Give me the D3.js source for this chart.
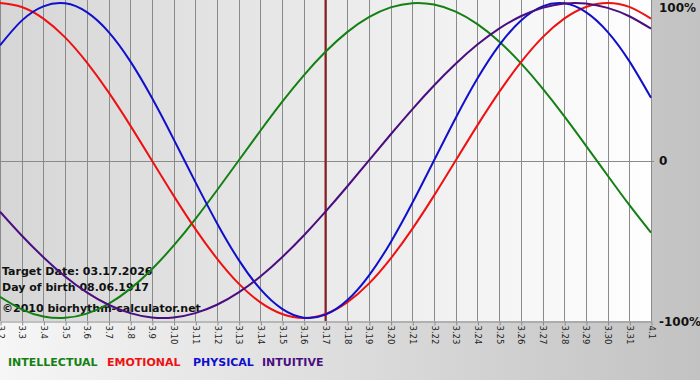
<!DOCTYPE html>
<html><head><meta charset="utf-8">
<script src="https://cdn.jsdelivr.net/npm/d3@7/dist/d3.min.js"></script>
<style>html,body{margin:0;padding:0;background:#fff;}svg{display:block;}</style>
</head><body>
<svg id="c" width="700" height="380"></svg>
<script>
const days = ["3.2","3.3","3.4","3.5","3.6","3.7","3.8","3.9","3.10","3.11","3.12","3.13","3.14","3.15","3.16","3.17","3.18","3.19","3.20","3.21","3.22","3.23","3.24","3.25","3.26","3.27","3.28","3.29","3.30","3.31","4.1"];
const intellectual = [-0.866,-0.945,-0.990,-0.999,-0.972,-0.910,-0.815,-0.690,-0.541,-0.372,-0.189,0.000,0.189,0.372,0.541,0.690,0.815,0.910,0.972,0.999,0.990,0.945,0.866,0.756,0.618,0.458,0.282,0.095,-0.095,-0.282,-0.458];
const emotional = [1.000,0.975,0.901,0.782,0.623,0.434,0.223,0.000,-0.223,-0.434,-0.623,-0.782,-0.901,-0.975,-1.000,-0.975,-0.901,-0.782,-0.623,-0.434,-0.223,0.000,0.223,0.434,0.623,0.782,0.901,0.975,1.000,0.975,0.901];
const physical = [0.731,0.888,0.979,0.998,0.942,0.817,0.631,0.398,0.136,-0.136,-0.398,-0.631,-0.817,-0.942,-0.998,-0.979,-0.888,-0.731,-0.520,-0.270,0.000,0.270,0.520,0.731,0.888,0.979,0.998,0.942,0.817,0.631,0.398];
const intuitive = [-0.325,-0.476,-0.614,-0.736,-0.837,-0.916,-0.969,-0.997,-0.997,-0.969,-0.916,-0.837,-0.736,-0.614,-0.476,-0.325,-0.165,0.000,0.165,0.325,0.476,0.614,0.736,0.837,0.916,0.969,0.997,0.997,0.969,0.916,0.837];
const yTicks = [1, 0, -1];
const yTickLabels = ["100%", "0", "-100%"];
const targetDay = "3.17";
const seriesNames = ["INTELLECTUAL","EMOTIONAL","PHYSICAL","INTUITIVE"];
const infoLines = ["Target Date: 03.17.2026","Day of birth 08.06.1917","©2010 biorhythm-calculator.net"];

const series = [
  {name:seriesNames[0], values:intellectual, color:"#138013"},
  {name:seriesNames[1], values:emotional, color:"#ee1111"},
  {name:seriesNames[2], values:physical, color:"#1010cc"},
  {name:seriesNames[3], values:intuitive, color:"#4a0e80"}
];

const svg = d3.select("#c");
const W = 651, H = 321;
const defs = svg.append("defs");
const g1 = defs.append("linearGradient").attr("id","outer").attr("x1","0").attr("x2","1").attr("y1","0").attr("y2","0");
g1.append("stop").attr("offset","0").attr("stop-color","#f6f6f6");
g1.append("stop").attr("offset","1").attr("stop-color","#c2c2c2");
const g2 = defs.append("linearGradient").attr("id","plotbg").attr("x1","0").attr("x2","1").attr("y1","0").attr("y2","0");
g2.append("stop").attr("offset","0").attr("stop-color","#d6d6d6");
g2.append("stop").attr("offset","1").attr("stop-color","#fefefe");

svg.append("rect").attr("width",700).attr("height",380).attr("fill","url(#outer)");
svg.append("rect").attr("width",W).attr("height",H).attr("fill","url(#plotbg)");

const x = d3.scalePoint().domain(days).range([0, W]);
const y = d3.scaleLinear().domain([-1, 1]).range([318, 3]);

// vertical grid
svg.append("g").selectAll("line").data(days).join("line")
  .attr("x1", d => Math.round(x(d)) + 0.5).attr("x2", d => Math.round(x(d)) + 0.5)
  .attr("y1", 0).attr("y2", H)
  .attr("stroke", "#8a8a8a").attr("stroke-width", 1);
// zero line
svg.append("line").attr("x1",0).attr("x2",W+3).attr("y1",Math.round(y(0))+0.5).attr("y2",Math.round(y(0))+0.5)
  .attr("stroke","#8a8a8a");

// bottom axis
const xAxis = svg.append("g").attr("transform", `translate(0,${H + 0.5})`)
  .call(d3.axisBottom(x).tickSize(4).tickSizeOuter(0));
xAxis.select(".domain").attr("stroke","#8a8a8a");
xAxis.selectAll(".tick line").attr("stroke","#8a8a8a").attr("transform","translate(0.5,0)");
xAxis.selectAll(".tick text")
  .attr("transform","rotate(90)")
  .attr("x", 4).attr("y", 0).attr("dy","0.35em")
  .attr("text-anchor","start")
  .attr("font-family","DejaVu Sans, Verdana, sans-serif")
  .attr("font-size","8.5px").attr("fill","#222");

// right axis
const yAxis = svg.append("g").attr("transform", `translate(${W},0)`)
  .call(d3.axisRight(y).tickValues(yTicks).tickSize(0).tickPadding(8)
    .tickFormat((d,i) => yTickLabels[i]));
yAxis.select(".domain").remove();
yAxis.selectAll(".tick text")
  .attr("font-family","DejaVu Sans, Verdana, sans-serif")
  .attr("font-weight","bold").attr("font-size","12px").attr("fill","#111");
yAxis.selectAll(".tick").filter(d => d === 1).select("text").attr("dy","0.7em");
yAxis.selectAll(".tick").filter(d => d === -1).select("text").attr("dy","0.6em");

// target day line
svg.append("line").attr("x1", x(targetDay)).attr("x2", x(targetDay)).attr("y1",0).attr("y2",H)
  .attr("stroke","#8b1c1c").attr("stroke-width",2);

// info text
const info = svg.append("g").attr("font-family","DejaVu Sans, Verdana, sans-serif")
  .attr("font-weight","bold").attr("font-size","11px").attr("fill","#111");
const infoY = [275, 291, 312];
info.selectAll("text").data(infoLines).join("text")
  .attr("x", 2).attr("y", (d,i) => infoY[i]).text(d => d);

// curves
const line = d3.line().x((d,i) => x(days[i])).y(d => y(d)).curve(d3.curveNatural);
svg.append("g").selectAll("path").data(series).join("path")
  .attr("d", d => line(d.values)).attr("fill","none")
  .attr("stroke", d => d.color).attr("stroke-width", 2);

// legend
const legX = [8, 107, 193, 262];
svg.append("g").attr("font-family","DejaVu Sans, Verdana, sans-serif")
  .attr("font-weight","bold").attr("font-size","11px")
  .selectAll("text").data(series).join("text")
  .attr("x", (d,i) => legX[i]).attr("y", 366)
  .attr("fill", d => d.color).text(d => d.name);
</script>
</body></html>
